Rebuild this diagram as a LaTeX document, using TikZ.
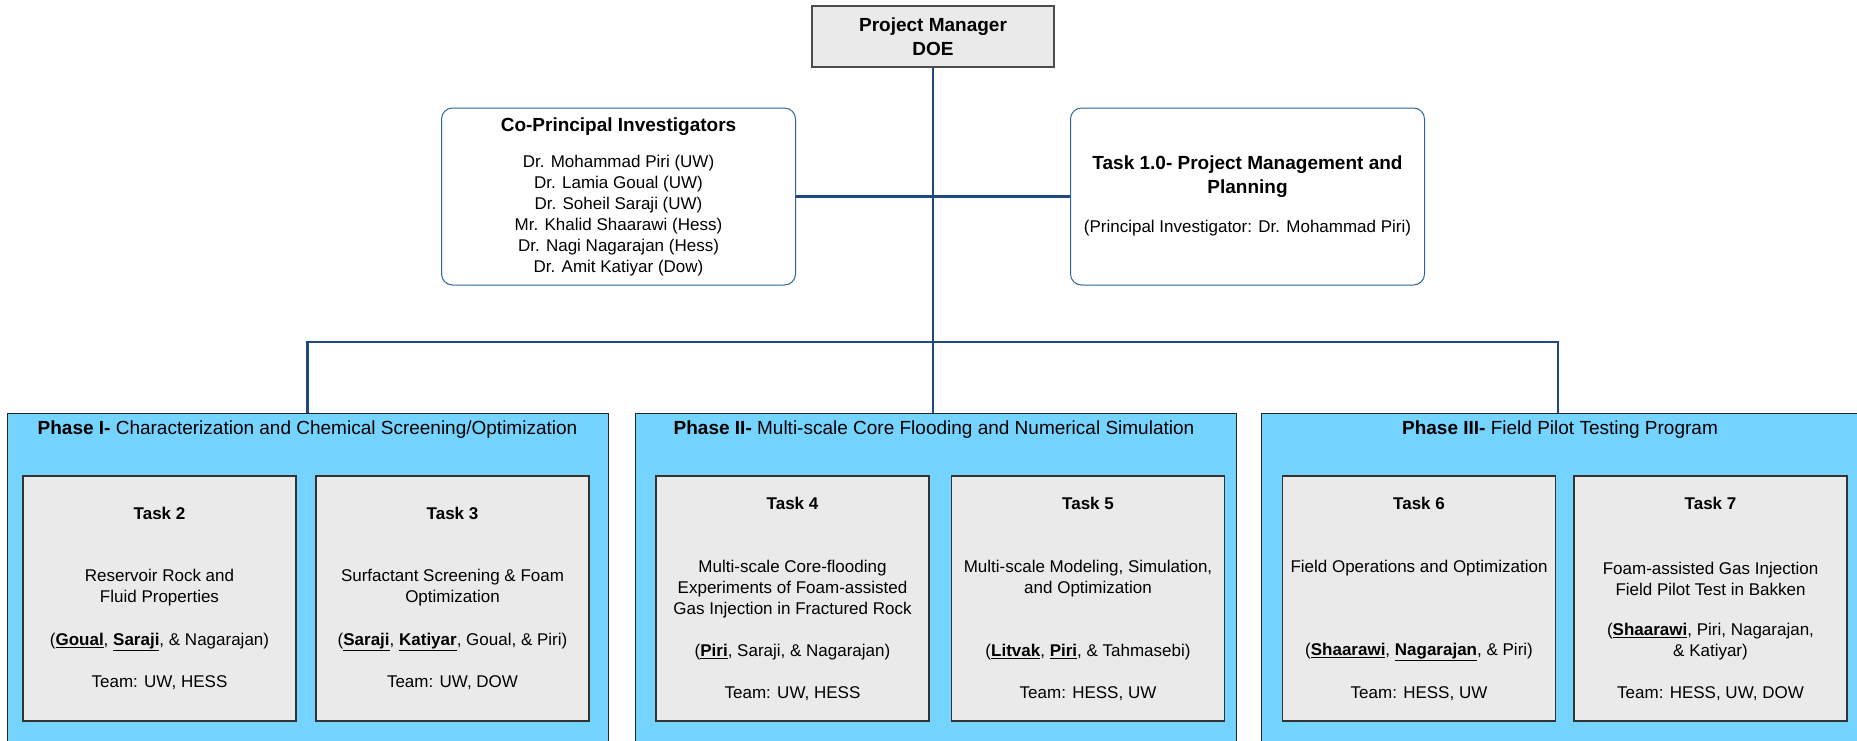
\documentclass[tikz,border=0pt]{standalone}
\usepackage{fontspec}
\setmainfont{Liberation Sans}
\usepackage{xcolor}
\definecolor{phaseblue}{HTML}{75D4FE}
\definecolor{boxgray}{HTML}{EAEAEA}
\definecolor{linkblue}{HTML}{1F4A80}
\definecolor{edgeblue}{HTML}{2E6496}
\newcommand{\bodysize}{\fontsize{17}{21}\selectfont}
\newcommand{\headsize}{\fontsize{19}{23.5}\selectfont}
\newcommand{\lead}[1]{\underline{\textbf{#1}}}

\begin{document}
\begin{tikzpicture}[x=1pt,y=-1pt,
  phase/.style={draw=black!85,fill=phaseblue,line width=1pt,minimum width=601pt,minimum height=352pt,inner sep=0pt},
  task/.style={draw=black!80,fill=boxgray,line width=1.3pt,minimum width=273pt,minimum height=245pt,inner sep=0pt},
  roundbox/.style={draw=edgeblue,fill=white,rounded corners=11pt,line width=1pt,minimum width=354pt,minimum height=177pt,inner sep=0pt},
  txt/.style={align=center,inner sep=0pt,font=\bodysize},
  tasktitle/.style={align=center,inner sep=0pt,font=\bodysize\bfseries},
  head/.style={align=center,inner sep=0pt,font=\headsize\bfseries},
  phtitle/.style={align=center,inner sep=0pt,font=\headsize},
  link/.style={draw=linkblue,line width=2.8pt}]
\useasboundingbox (0,0) rectangle (1857,740);
\clip (0,0) rectangle (1857,740);

% top of the chart
\node [draw=black!70,fill=boxgray,line width=1.3pt,minimum width=242pt,minimum height=61pt,align=center,inner sep=0pt,font=\headsize\bfseries] (pm) at (933,36.5) {Project Manager\\DOE};

\node [roundbox] (copi) at (618.5,196.5) {};
\node [head] (copih) at (618.5,127) {Co-Principal Investigators};
\node [txt] (copin) at (618.5,215.5) {Dr. Mohammad Piri (UW)\\Dr. Lamia Goual (UW)\\Dr. Soheil Saraji (UW)\\Mr. Khalid Shaarawi (Hess)\\Dr. Nagi Nagarajan (Hess)\\Dr. Amit Katiyar (Dow)};

\node [roundbox] (task1) at (1247.5,196.5) {};
\node [head] (task1h) at (1247.5,176.5) {Task 1.0- Project Management and\\Planning};
\node [txt] (task1s) at (1247.5,228) {(Principal Investigator: Dr. Mohammad Piri)};

% phases
\node [phase] (ph1) at (307.5,589) {};
\node [phase] (ph2) at (935.5,589) {};
\node [phase] (ph3) at (1561.5,589) {};
\node [phtitle] (ph1h) at (307.5,430) {\textbf{Phase I-} Characterization and Chemical Screening/Optimization};
\node [phtitle] (ph2h) at (934,430) {\textbf{Phase II-} Multi-scale Core Flooding and Numerical Simulation};
\node [phtitle] (ph3h) at (1560,430) {\textbf{Phase III-} Field Pilot Testing Program};

% tasks
\node [task] (t2) at (159.5,598.5) {};
\node [tasktitle] (t2h) at (159.5,513) {Task 2};
\node [txt] (t2d) at (159.5,588) {Reservoir Rock and\\Fluid Properties};
\node [txt] (t2a) at (159.5,642) {(\lead{Goual}, \lead{Saraji}, \& Nagarajan)};
\node [txt] (t2t) at (159.5,683) {Team: UW, HESS};

\node [task] (t3) at (452.5,598.5) {};
\node [tasktitle] (t3h) at (452.5,513) {Task 3};
\node [txt] (t3d) at (452.5,588) {Surfactant Screening \& Foam\\Optimization};
\node [txt] (t3a) at (452.5,642) {(\lead{Saraji}, \lead{Katiyar}, Goual, \& Piri)};
\node [txt] (t3t) at (452.5,683) {Team: UW, DOW};

\node [task] (t4) at (792.5,598.5) {};
\node [tasktitle] (t4h) at (792.5,503) {Task 4};
\node [txt] (t4d) at (792.5,589) {Multi-scale Core-flooding\\Experiments of Foam-assisted\\Gas Injection in Fractured Rock};
\node [txt] (t4a) at (792.5,652) {(\lead{Piri}, Saraji, \& Nagarajan)};
\node [txt] (t4t) at (792.5,694) {Team: UW, HESS};

\node [task] (t5) at (1088,598.5) {};
\node [tasktitle] (t5h) at (1088,503) {Task 5};
\node [txt] (t5d) at (1088,578.5) {Multi-scale Modeling, Simulation,\\and Optimization};
\node [txt] (t5a) at (1088,652) {(\lead{Litvak}, \lead{Piri}, \& Tahmasebi)};
\node [txt] (t5t) at (1088,694) {Team: HESS, UW};

\node [task] (t6) at (1419,598.5) {};
\node [tasktitle] (t6h) at (1419,503) {Task 6};
\node [txt] (t6d) at (1419,568) {Field Operations and Optimization};
\node [txt] (t6a) at (1419,652) {(\lead{Shaarawi}, \lead{Nagarajan}, \& Piri)};
\node [txt] (t6t) at (1419,694) {Team: HESS, UW};

\node [task] (t7) at (1710.5,598.5) {};
\node [tasktitle] (t7h) at (1710.5,503) {Task 7};
\node [txt] (t7d) at (1710.5,578.5) {Foam-assisted Gas Injection\\Field Pilot Test in Bakken};
\node [txt] (t7a) at (1710.5,641.5) {(\lead{Shaarawi}, Piri, Nagarajan,\\\& Katiyar)};
\node [txt] (t7t) at (1710.5,694) {Team: HESS, UW, DOW};

% connectors
\coordinate (bus) at (933,342);
\coordinate (drop3) at (1558,413);
\draw [link] (pm.south) -- (pm.south |- ph2.north);
\draw [link] (copi.east) -- (task1.west);
\draw [link] (ph1.north) |- (bus) -| (drop3);

\end{tikzpicture}
\end{document}
